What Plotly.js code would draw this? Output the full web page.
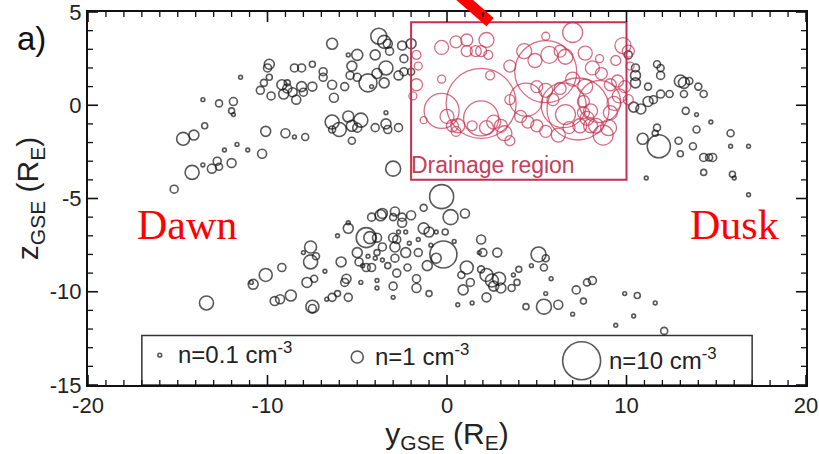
<!DOCTYPE html>
<html>
<head>
<meta charset="utf-8">
<script src="https://cdn.plot.ly/plotly-3.0.1.min.js"></script>
<style>html,body{margin:0;padding:0;background:#fff;}#chart{width:819px;height:454px;}</style>
</head>
<body>
<div id="chart"></div>
<script>
// ---- upper arc (black) : y_GSE, z_GSE, density n (cm^-3)
const upperY = [-15.2,-14.7,-14.1,-14.2,-13.6,-13.1,-12.8,-12.7,-12.0,-13.6,-13.5,-12.7,-11.9,-12.0,-11.9,-11.5,-12.4,-11.7,-11.1,-10.3,-10.1,-9.0,-8.5,-7.9,-10.4,-10.2,-9.8,-9.9,-9.9,-10.0,-9.2,-8.9,-9.1,-8.6,-8.4,-8.9,-8.5,-8.1,-7.5,-8.1,-8.0,-7.5,-6.9,-6.9,-6.4,-6.3,-5.7,-6.4,-5.3,-5.5,-5.4,-5.0,-5.0,-4.4,-4.2,-4.0,-3.8,-3.5,-3.3,-3.2,-3.4,-3.9,-3.5,-2.7,-2.4,-2.5,-2.0,-2.4,-2.0,-6.4,-6.0,-6.4,-5.5,-5.3,-4.8,-5.0,-5.3,-4.0,-3.4,-3.3,-2.7,-3.4,-3.0,
  10.1,10.5,10.5,10.5,11.7,11.9,11.9,11.2,11.9,12.4,13.0,13.2,13.5,13.2,14.0,14.3,10.4,10.8,11.2,11.5,13.3,13.9,14.7,11.7,11.6,10.9,11.8,12.9,13.0,13.9,13.7,14.3,14.8,14.6,14.3,15.8,15.8,16.8,15.9,16.0,11.1,16.8];
const upperZ = [-4.5,-1.8,-1.6,-3.6,-3.2,-3.4,-3.0,-3.3,-3.1,0.3,-1.1,0.1,0.2,-0.3,-0.5,1.5,-2.4,-2.1,-2.4,-2.6,-1.4,-1.5,-1.7,-1.7,0.8,1.2,0.5,1.5,2.2,2.0,1.1,0.9,0.6,0.7,0.3,1.2,2.0,2.0,2.2,1.0,0.7,1.0,1.8,1.5,1.1,0.4,1.0,3.3,2.1,2.7,1.6,2.7,1.5,1.2,1.0,2.7,3.7,3.4,3.3,2.9,2.0,1.7,1.2,1.6,2.5,3.2,3.3,1.8,1.8,-0.9,-1.3,-1.3,-0.6,-1.1,-0.8,-1.2,-1.9,-1.2,-1.0,-1.3,-1.2,-0.4,-3.4,
  2.7,2.0,1.6,1.2,2.2,2.0,1.6,1.0,0.6,0.6,1.3,1.2,1.3,0.6,1.0,0.6,-0.1,-0.2,0.2,0.3,-0.3,-0.5,-0.9,-1.2,-1.5,-1.8,-2.2,-1.9,-2.6,-1.3,-2.2,-2.8,-2.8,-2.8,-3.6,-1.5,-2.2,-2.2,-3.7,-3.9,-3.9,-4.8];
const upperN = [0.44,1.17,0.69,1.36,0.1,0.56,0.44,0.34,0.56,0.1,0.25,0.34,0.44,0.25,0.1,0.1,0.1,0.1,0.1,0.56,0.69,0.56,0.1,0.34,0.44,0.34,0.44,0.25,0.69,0.44,0.69,0.56,0.69,0.56,0.56,0.25,0.44,0.44,0.25,0.69,0.44,0.56,0.44,0.44,0.56,0.56,0.44,0.84,0.69,0.1,0.44,0.84,0.44,2.25,0.1,0.69,1.78,1.17,0.56,0.44,1.36,0.69,0.69,0.56,0.44,0.56,0.69,0.44,0.34,1.36,1.36,0.34,0.84,0.84,1.36,0.56,0.34,0.44,0.69,0.44,0.44,0.1,1.56,
  0.44,0.44,0.69,0.69,0.34,0.34,0.44,0.34,0.44,0.34,1.0,0.84,0.34,0.34,0.34,0.34,0.69,0.69,0.69,0.44,0.34,0.1,0.1,0.34,0.25,0.84,3.7,0.34,0.25,0.34,0.34,0.44,0.44,0.34,0.25,0.34,0.1,0.1,0.25,0.1,0.1,0.1];

// ---- lower arc (black)
const lowerY = [-13.4,-10.8,-10.1,-10.9,-9.6,-9.3,-8.7,-9.2,-7.6,-7.6,-8.0,-7.3,-7.8,-7.4,-6.8,-7.5,-7.5,-6.7,-6.4,-6.1,-5.5,-5.9,-5.6,-5.7,-5.5,-6.1,-5.5,-4.5,-4.3,-3.9,-4.2,-3.7,-3.0,-5.0,-4.9,-4.5,-4.2,-3.6,-3.9,-3.3,-3.9,-3.9,-3.0,-3.0,-3.0,-2.9,-2.9,-4.8,-4.4,-4.7,-4.0,-3.6,
  -0.3,-1.3,-2.0,-2.5,0.2,1.0,-1.3,-1.0,-0.6,-0.1,-2.3,-0.2,-0.6,-2.8,-2.3,-2.2,-1.6,-1.1,-1.7,-1.7,-1.0,1.1,0.8,1.3,0.9,1.9,2.0,2.8,1.8,2.2,2.5,2.9,2.6,3.0,2.2,1.9,3.6,3.9,4.0,3.7,5.1,5.5,5.4,4.7,5.8,5.5,4.4,5.4,6.2,0.6,1.4,7.2,7.8,8.1,7.6,7.0,9.9,10.6,10.4,9.4,11.6,12.1,-3.6,-2.9,-2.5,-2.8,-2.7,-1.6,-2.1,-0.9,0.4];
const lowerZ = [-10.6,-9.6,-9.1,-9.5,-10.5,-10.4,-10.2,-8.7,-7.6,-8.4,-7.9,-8.1,-9.5,-9.3,-8.9,-10.8,-10.9,-10.4,-10.3,-10.1,-10.3,-8.4,-9.3,-9.5,-6.6,-7.0,-6.3,-7.1,-7.1,-7.1,-6.0,-5.9,-6.0,-7.9,-8.4,-8.7,-8.7,-7.6,-7.9,-8.6,-9.4,-9.8,-9.7,-10.3,-7.1,-7.6,-8.2,-9.5,-8.1,-8.6,-8.2,-8.3,
  -4.9,-5.5,-5.9,-6.3,-6.0,-5.8,-6.6,-6.8,-6.8,-6.8,-6.8,-8.0,-8.2,-9.0,-7.9,-8.7,-7.9,-8.6,-9.3,-9.8,-10.1,-8.7,-9.1,-9.5,-9.9,-7.2,-7.9,-7.9,-7.9,-9.1,-9.4,-9.3,-9.7,-9.8,-10.3,-8.8,-9.8,-9.5,-8.8,-9.1,-8.0,-8.2,-8.7,-8.6,-9.3,-10.1,-10.8,-10.8,-10.7,-10.7,-10.6,-9.9,-9.5,-9.4,-10.5,-11.2,-10.1,-10.2,-11.3,-11.8,-10.6,-12.1,-5.8,-5.7,-6.0,-7.2,-6.8,-7.2,-7.4,-7.5,-7.3];
const lowerN = [1.36,0.69,1.17,0.1,0.56,0.56,0.84,0.44,1.0,1.36,0.1,0.34,0.69,0.34,0.1,1.17,0.44,0.1,0.44,0.25,0.44,0.69,0.56,0.44,0.69,0.1,0.1,2.78,1.0,0.56,0.44,0.84,0.34,0.69,0.44,0.44,0.44,0.44,0.25,0.25,0.1,0.1,0.44,0.1,0.56,0.69,0.44,0.1,0.1,0.1,0.1,0.1,
  4.0,0.34,0.56,0.56,1.56,0.56,0.84,0.69,0.1,0.25,0.1,5.06,0.69,0.44,0.69,0.34,0.44,0.69,0.44,0.56,0.25,1.17,0.34,0.44,0.69,0.56,0.44,0.56,0.1,1.17,1.17,1.17,0.69,0.69,0.56,0.34,0.34,0.25,0.25,0.1,1.56,0.34,0.34,0.1,0.1,0.1,0.25,1.56,0.56,0.1,0.1,0.44,0.34,0.44,0.25,0.1,0.1,0.25,0.1,0.1,0.1,0.34,0.69,0.56,0.44,0.44,0.1,0.1,0.1,0.1,0.1];

// ---- drainage region (red)
const drainY = [-0.3,0.5,1.1,1.1,1.6,1.9,2.2,2.3,-1.7,-1.6,-1.7,-1.9,-0.3,2.4,3.5,1.9,-0.3,1.9,-1.3,0.0,0.3,0.6,0.5,1.4,2.2,2.6,3.0,3.2,3.5,4.3,4.9,5.5,5.7,6.3,6.6,7.0,7.7,8.5,9.4,10.1,10.2,5.5,7.3,6.5,8.5,4.1,4.5,5.0,5.5,7.4,7.8,8.3,9.0,8.7,8.1,8.6,9.1,9.6,9.3,7.0,7.7,6.3,5.5,5.9,5.0,7.6,8.0,6.6,9.5,9.9,10.1,9.1,8.0,7.6,9.8,4.4,3.5,6.2,6.8];
const drainZ = [3.1,3.4,3.5,2.9,2.9,2.9,3.5,2.7,2.7,2.1,1.1,0.5,1.4,1.6,2.1,0.1,-0.3,-0.7,-0.8,-0.6,-1.1,-1.1,-1.4,-1.1,-1.2,-0.9,-1.1,-1.5,-1.9,2.9,2.4,3.7,2.7,2.9,2.6,3.9,2.8,2.5,2.4,2.9,2.1,1.8,-0.2,0.0,0.2,-0.6,-0.9,-1.1,-1.4,-1.1,-0.7,-1.1,-1.2,-1.6,2.0,1.7,1.1,0.5,0.1,1.4,1.0,0.9,0.8,0.3,1.0,0.2,-0.3,-0.5,1.3,1.0,0.3,-0.4,-1.1,-0.4,3.2,0.3,0.3,-1.6,-1.2];
const drainN = [1.36,1.0,1.0,0.84,0.84,0.84,1.56,0.56,0.56,0.44,1.0,0.44,0.44,0.56,1.0,34,8.5,8.5,0.34,1.36,1.0,1.36,0.69,0.69,1.36,1.36,1.17,1.56,0.69,1.56,1.36,0.44,2.0,1.0,1.56,2.78,1.36,0.44,0.69,1.0,0.44,26.7,26.7,14,12.25,1.0,1.0,1.0,1.0,1.36,1.36,1.56,1.78,2.78,1.36,1.0,1.0,1.36,1.36,1.36,1.56,1.0,1.36,1.0,1.0,1.0,1.36,2.78,1.0,1.0,0.69,1.36,1.36,1.0,1.78,7.6,0.69,1.36,1.0];

// ---- legend samples
const legY = [-16.0, -5.0, 7.5];
const legZ = [-13.4, -13.5, -13.7];
const legN = [0.1, 1, 10];
const legLabels = ['n=0.1 cm<sup>-3</sup>', 'n=1 cm<sup>-3</sup>', 'n=10 cm<sup>-3</sup>'];

// ---- axes
const xRange = [-20, 20];
const zRange = [-15, 5];
const xTicks = [-20, -10, 0, 10, 20];
const xTickText = ['-20', '-10', '0', '10', '20'];
const zTicks = [-15, -10, -5, 0, 5];
const zTickText = ['-15', '-10', '-5', '0', '5'];
const MINOR_STEP = 1;

// ---- regions
const drainBox = {y0: -2, y1: 10, z0: -4.0, z1: 4.45};
const legendBox = {y0: -17, y1: 17, z0: -15, z1: -12.35};

const SCALE = 12; // marker diameter (px) for n = 1 ; area ∝ n
const sz = arr => arr.map(v => SCALE * Math.sqrt(v));

const FONT = 'Liberation Sans, Arial, Helvetica, sans-serif';
const black = '#111111';
const crimson = '#c52f50';

// plot-area size in px (819 - 88 - 13, 454 - 12 - 69)
const PW = 718, PH = 373;
const MAJ = 10, MIN = 5;

// inward tick marks on all four sides (axis decoration)
const tickShapes = [];
function addXTick(v, len, w) {
  tickShapes.push({type: 'line', xref: 'x', yref: 'paper', x0: v, x1: v, y0: 0, y1: len / PH, line: {color: black, width: w}});
  tickShapes.push({type: 'line', xref: 'x', yref: 'paper', x0: v, x1: v, y0: 1, y1: 1 - len / PH, line: {color: black, width: w}});
}
function addZTick(v, len, w) {
  tickShapes.push({type: 'line', xref: 'paper', yref: 'y', y0: v, y1: v, x0: 0, x1: len / PW, line: {color: black, width: w}});
  tickShapes.push({type: 'line', xref: 'paper', yref: 'y', y0: v, y1: v, x0: 1, x1: 1 - len / PW, line: {color: black, width: w}});
}
for (let v = xRange[0]; v <= xRange[1]; v += MINOR_STEP) {
  if (xTicks.includes(v)) addXTick(v, MAJ, 1.6); else addXTick(v, MIN, 1.3);
}
for (let v = zRange[0]; v <= zRange[1]; v += MINOR_STEP) {
  if (zTicks.includes(v)) addZTick(v, MAJ, 1.6); else addZTick(v, MIN, 1.3);
}

const traces = [
  {x: upperY, y: upperZ, mode: 'markers', type: 'scatter', hoverinfo: 'skip',
   marker: {symbol: 'circle-open', size: sz(upperN), color: black, line: {width: 1.6, color: black}}},
  {x: lowerY, y: lowerZ, mode: 'markers', type: 'scatter', hoverinfo: 'skip',
   marker: {symbol: 'circle-open', size: sz(lowerN), color: black, line: {width: 1.6, color: black}}},
  {x: drainY, y: drainZ, mode: 'markers', type: 'scatter', hoverinfo: 'skip',
   marker: {symbol: 'circle-open', size: sz(drainN), color: crimson, line: {width: 1.3, color: crimson}}},
  {x: legY, y: legZ, mode: 'markers', type: 'scatter', hoverinfo: 'skip',
   marker: {symbol: 'circle-open', size: sz(legN), color: black, line: {width: 1.6, color: black}}}
];

const legendText = legY.map((v, i) => ({
  x: v + [0.9, 0.9, 1.4][i], y: legZ[i] + 0.1, xref: 'x', yref: 'y', text: legLabels[i],
  showarrow: false, xanchor: 'left', yanchor: 'middle',
  font: {family: FONT, size: 24, color: '#222'}
}));

function mainAxis(extra) {
  return Object.assign({
    ticks: '', showline: true, linewidth: 2, linecolor: black, mirror: true,
    showgrid: false, zeroline: false, ticklabeloverflow: 'allow',
    tickfont: {family: FONT, size: 22, color: '#222'}
  }, extra);
}

const layout = {
  width: 819, height: 454,
  margin: {l: 88, r: 13, t: 12, b: 69},
  paper_bgcolor: '#fff', plot_bgcolor: '#fff',
  showlegend: false,
  font: {family: FONT, color: '#222'},
  xaxis: mainAxis({
    range: xRange, tickmode: 'array', tickvals: xTicks, ticktext: xTickText,
    title: {text: 'y<sub>GSE</sub> (R<sub>E</sub>)', font: {family: FONT, size: 30, color: '#222'}, standoff: 0}
  }),
  yaxis: mainAxis({
    range: zRange, tickmode: 'array', tickvals: zTicks, ticktext: zTickText,
    title: {text: 'z<sub>GSE</sub> (R<sub>E</sub>)', font: {family: FONT, size: 30, color: '#222'}, standoff: 2}
  }),
  shapes: [
    {type: 'rect', xref: 'x', yref: 'y', x0: drainBox.y0, x1: drainBox.y1, y0: drainBox.z0, y1: drainBox.z1,
     line: {color: crimson, width: 2}, layer: 'above'},
    {type: 'rect', xref: 'x', yref: 'y', x0: legendBox.y0, x1: legendBox.y1, y0: legendBox.z0, y1: legendBox.z1,
     line: {color: '#333', width: 1.5}, layer: 'below'},
    {type: 'line', xref: 'paper', yref: 'paper', x0: 0.508, y0: 1.06, x1: 0.560, y1: 0.973,
     line: {color: '#ff0000', width: 11}}
  ].concat(tickShapes),
  annotations: [
    {x: -0.102, y: 0.93, xref: 'paper', yref: 'paper', text: 'a)', showarrow: false,
     xanchor: 'left', yanchor: 'middle', font: {family: FONT, size: 33, color: '#111'}},
    {x: -14.5, y: -6.4, xref: 'x', yref: 'y', text: 'Dawn', showarrow: false,
     xanchor: 'center', yanchor: 'middle', font: {family: 'Liberation Serif, Times New Roman, serif', size: 42, color: '#ff0000'}},
    {x: 16.0, y: -6.4, xref: 'x', yref: 'y', text: 'Dusk', showarrow: false,
     xanchor: 'center', yanchor: 'middle', font: {family: 'Liberation Serif, Times New Roman, serif', size: 42, color: '#ff0000'}},
    {x: -2.1, y: -3.2, xref: 'x', yref: 'y', text: 'Drainage region', showarrow: false,
     xanchor: 'left', yanchor: 'middle', font: {family: FONT, size: 23, color: '#c2405c'}}
  ].concat(legendText)
};

Plotly.newPlot('chart', traces, layout, {staticPlot: true, displayModeBar: false});
</script>
</body>
</html>
